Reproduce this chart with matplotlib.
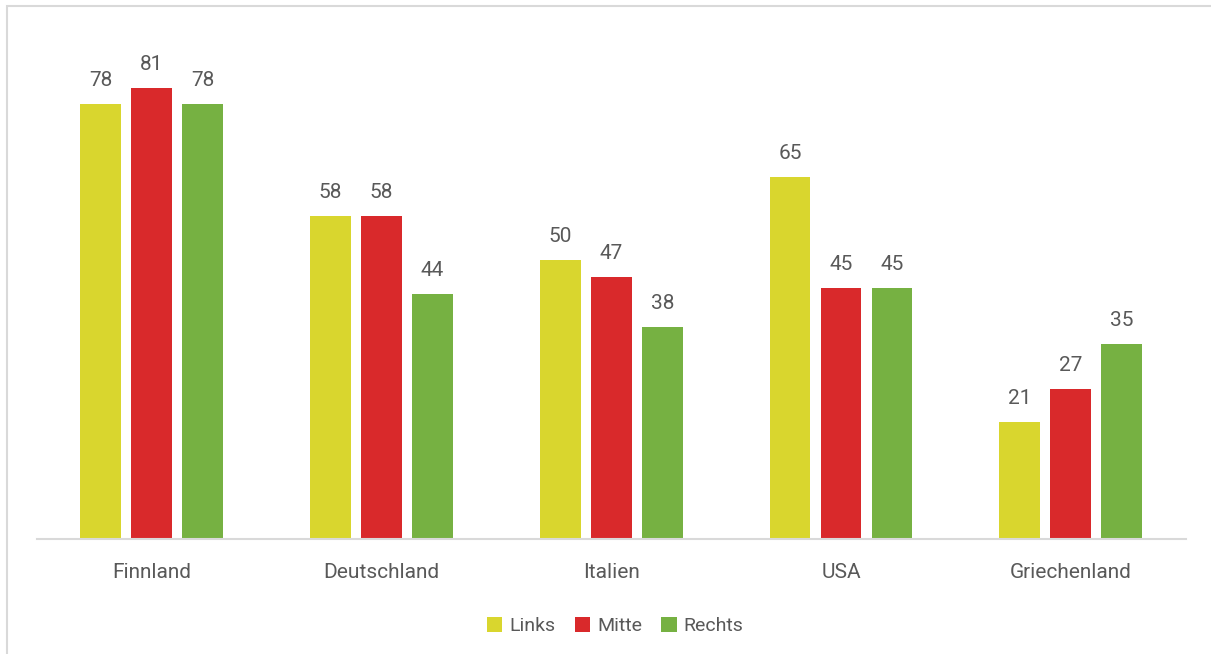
import numpy as np
import matplotlib.pyplot as plt
from matplotlib.patches import Rectangle

plt.rcParams['font.family'] = ['Roboto', 'DejaVu Sans']

countries = ['Finnland', 'Deutschland', 'Italien', 'USA', 'Griechenland']
series = ['Links', 'Mitte', 'Rechts']
links = [78, 58, 50, 65, 21]
mitte = [81, 58, 47, 45, 27]
rechts = [78, 44, 38, 45, 35]
colors = ['#D9D62E', '#D9292B', '#76B142']

fig = plt.figure(figsize=(12.11, 6.54), dpi=100)
ax = fig.add_axes([0.0306, 0.1758, 0.9484, 0.767])

x = np.arange(len(countries))
width = 0.178
step = 0.222
text_color = '#595959'
for i, (name, vals, c) in enumerate(zip(series, [links, mitte, rechts], colors)):
    bars = ax.bar(x + (i - 1) * step, vals, width, color=c, label=name)
    ax.bar_label(bars, padding=10, fontsize=15, color=text_color)

ax.set_xlim(-0.5, len(countries) - 0.5)
ax.set_ylim(0, 90)
ax.set_yticks([])
ax.set_xticks(x)
ax.set_xticklabels(countries, fontsize=15, color=text_color)
ax.tick_params(axis='x', length=0, pad=17)
for s in ['top', 'right', 'left']:
    ax.spines[s].set_visible(False)
ax.spines['bottom'].set_color('#D9D9D9')
ax.spines['bottom'].set_linewidth(1.5)

leg = fig.legend(loc='center', bbox_to_anchor=(0.508, 0.043), ncol=3, frameon=False,
                 fontsize=14, handlelength=0.8, handleheight=0.8, handletextpad=0.35,
                 columnspacing=1.0)
for t in leg.get_texts():
    t.set_color(text_color)

# outer frame
fig.patches.append(Rectangle((7 / 1211, -0.05), 1.2, 1 - 6 / 654 + 0.05,
                             transform=fig.transFigure, fill=False,
                             edgecolor='#D9D9D9', linewidth=1.5))

fig.savefig('out.png', dpi=100)
